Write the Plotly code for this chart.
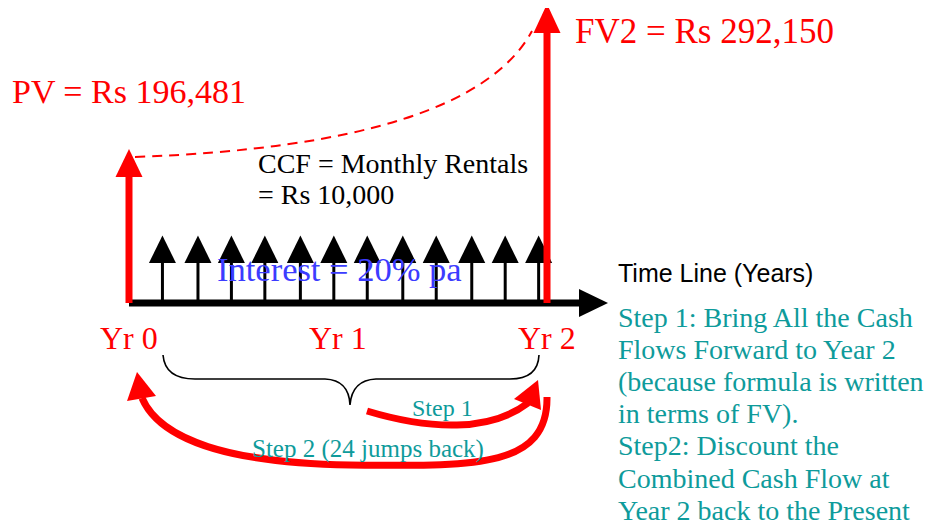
import plotly.graph_objects as go

# ---------------- data ----------------
cash_flow_years = [0.16, 0.33, 0.49, 0.65, 0.82, 0.98, 1.14, 1.31, 1.47, 1.64, 1.80, 1.96]
monthly_rental = 10000
interest_rate = 20
pv_value = 196481
fv2_value = 292150
year_ticks = [0, 1, 2]
year_labels = ["Yr 0", "Yr 1", "Yr 2"]
step_notes = [
    "Step 1: Bring All the Cash",
    "Flows Forward to Year 2",
    "(because formula is written",
    "in terms of FV).",
    "Step2: Discount the",
    "Combined Cash Flow at",
    "Year 2 back to the Present",
]

# ---------------- styling / layout ----------------
W, H = 942, 525
OFF = 8             # page body margin of the browser
X0 = 129.0          # pixel position of year 0
PXY = 209.0         # pixels per year
RED = "#ff0000"
TEAL = "#0e9b9b"
BLUE = "#3c3cff"
SERIF = "Liberation Serif, Times New Roman, serif"
SANS = "Liberation Sans, Arial, sans-serif"


def X(px):
    return (px - X0) / PXY


def HW(px):
    return px / PXY


def P(*segs):
    out = []
    for seg in segs:
        cmd = seg[0]
        pts = seg[1:]
        out.append(cmd + " " + " ".join(f"{X(a):.5f},{b:.2f}" for a, b in pts))
    return " ".join(out)


def tri(xc, tip_y, base_y, half_px):
    return (f"M {xc - HW(half_px):.5f},{base_y} L {xc:.5f},{tip_y} "
            f"L {xc + HW(half_px):.5f},{base_y} Z")


AXIS_Y = 303
shapes = []

# time line axis
shapes.append(dict(type="line", xref="x", yref="y", x0=year_ticks[0], x1=X(580),
                   y0=AXIS_Y, y1=AXIS_Y, line=dict(color="black", width=7)))
shapes.append(dict(type="path", xref="x", yref="y",
                   path=P(("M", (579, 289)), ("L", (608, AXIS_Y)), ("L", (579, 317)), ("Z",)),
                   fillcolor="black", line=dict(width=0)))

# monthly cash flow arrows
for t in cash_flow_years:
    shapes.append(dict(type="line", xref="x", yref="y", x0=t, x1=t, y0=AXIS_Y, y1=262,
                       line=dict(color="black", width=3)))
    shapes.append(dict(type="path", xref="x", yref="y", path=tri(t, 235.5, 263, 13.5),
                       fillcolor="black", line=dict(width=0)))

# PV arrow (year 0)
shapes.append(dict(type="line", xref="x", yref="y", x0=year_ticks[0], x1=year_ticks[0],
                   y0=AXIS_Y, y1=175, line=dict(color=RED, width=7)))
shapes.append(dict(type="path", xref="x", yref="y", path=tri(year_ticks[0], 149, 177, 13.5),
                   fillcolor=RED, line=dict(width=0)))

# FV arrow (year 2)
shapes.append(dict(type="line", xref="x", yref="y", x0=year_ticks[2], x1=year_ticks[2],
                   y0=AXIS_Y, y1=31, line=dict(color=RED, width=7)))
shapes.append(dict(type="path", xref="x", yref="y", path=tri(year_ticks[2], 4, 33, 13.5),
                   fillcolor=RED, line=dict(width=0)))

# dashed compounding curve
shapes.append(dict(type="path", xref="x", yref="y",
                   path=P(("M", (135, 157)), ("Q", (470, 145), (532, 31))),
                   line=dict(color=RED, width=2, dash="10px,7px")))

# brace
shapes.append(dict(type="path", xref="x", yref="y",
                   path=P(("M", (163, 355)), ("Q", (165, 379), (195, 379)), ("L", (325, 379)),
                          ("Q", (349, 380), (350, 405)), ("Q", (352, 380), (376, 379)),
                          ("L", (510, 379)), ("Q", (538, 379), (539, 355))),
                   line=dict(color="black", width=1.6)))

# Step 1 arrow
shapes.append(dict(type="path", xref="x", yref="y",
                   path=P(("M", (367, 411)), ("C", (430, 430), (490, 432), (528, 403))),
                   line=dict(color=RED, width=7)))
shapes.append(dict(type="path", xref="x", yref="y",
                   path=P(("M", (538, 380)), ("L", (514, 399)), ("L", (541, 410)), ("Z",)),
                   fillcolor=RED, line=dict(width=0)))

# Step 2 arrow
shapes.append(dict(type="path", xref="x", yref="y",
                   path=P(("M", (547, 397)), ("C", (548, 470), (470, 466), (350, 465)),
                          ("C", (230, 463), (160, 440), (142, 398))),
                   line=dict(color=RED, width=7)))
shapes.append(dict(type="path", xref="x", yref="y",
                   path=P(("M", (137, 372)), ("L", (127, 401)), ("L", (156, 396)), ("Z",)),
                   fillcolor=RED, line=dict(width=0)))

annotations = []


def txt(text, xpx, ypx, size, color, family=SERIF, anchor="left"):
    annotations.append(dict(text=text, xref="x", yref="y", x=X(xpx), y=ypx,
                            xanchor=anchor, yanchor="middle", showarrow=False,
                            font=dict(family=family, size=size, color=color)))


txt(f"PV = Rs {pv_value:,}", 10, 91, 34, RED)
txt(f"FV2 = Rs {fv2_value:,}", 573, 31, 35, RED)
txt("CCF = Monthly Rentals", 256, 163, 28, "black")
txt(f"= Rs {monthly_rental:,}", 256, 194, 28, "black")
txt(f"Interest = {interest_rate}% pa", 215, 269, 34.5, BLUE)
txt("Time Line (Years)", 616, 273, 25, "black", family=SANS)
for i, line in enumerate(step_notes):
    txt(line, 616, 317 + 32.2 * i, 28, TEAL)
for t, lab in zip(year_ticks, year_labels):
    annotations.append(dict(text=lab, xref="x", yref="y", x=t, y=338, xanchor="center",
                            yanchor="middle", showarrow=False,
                            font=dict(family=SERIF, size=32, color=RED)))
txt("Step 1", 410, 408, 24, TEAL)
txt("Step 2 (24 jumps back)", 250, 449, 25, TEAL)

fig = go.Figure()
fig.add_trace(go.Scatter(x=cash_flow_years, y=[AXIS_Y] * len(cash_flow_years), mode="markers",
                         marker=dict(size=1, color="rgba(0,0,0,0)"), hoverinfo="skip",
                         showlegend=False))
fig.update_layout(
    width=W - OFF, height=H - OFF, margin=dict(l=0, r=0, t=0, b=0),
    paper_bgcolor="white", plot_bgcolor="white",
    xaxis=dict(range=[X(OFF), X(W)], visible=False, fixedrange=True),
    yaxis=dict(range=[H, OFF], visible=False, fixedrange=True),
    shapes=shapes, annotations=annotations, showlegend=False,
)
fig.write_html("out.html")
